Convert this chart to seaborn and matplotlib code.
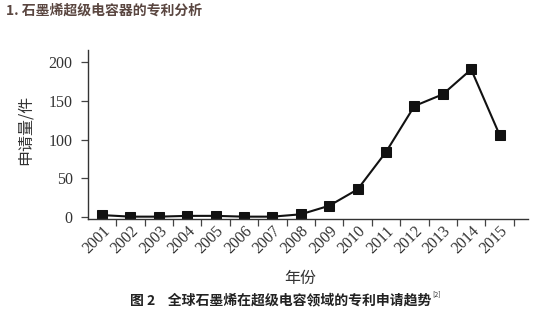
import matplotlib
matplotlib.use("Agg")
import matplotlib.pyplot as plt
import seaborn as sns
import pandas as pd
import numpy as np

years = [2001, 2002, 2003, 2004, 2005, 2006, 2007, 2008, 2009, 2010, 2011, 2012, 2013, 2014, 2015]
counts = [3, 1, 1, 2, 2, 1, 1, 4, 15, 36, 84, 143, 158, 190, 106]
yticks = [0, 50, 100, 150, 200]

title_text = "1. 石墨烯超级电容器的专利分析"
caption_text = "图 2    全球石墨烯在超级电容领域的专利申请趋势"
xlabel_text = "年份"
ylabel_text = "申请量/件"

sns.set_theme(style="white")
plt.rcParams['font.family'] = ['Noto Sans CJK SC', 'DejaVu Sans']

df = pd.DataFrame({"year": years, "count": counts})

fig = plt.figure(figsize=(5.36, 3.16), dpi=100)
ax = fig.add_axes([0.164, 0.307, 0.821, 0.535])

sns.lineplot(data=df, x="year", y="count", ax=ax, color="#111111", linewidth=1.5,
             marker="s", markersize=6.5, markerfacecolor="#111111", markeredgecolor="#111111")

ax.set_xlim(2000.5, 2016.0)
ax.set_ylim(-2, 215)
ax.set_yticks(yticks)
ax.set_yticklabels([str(v) for v in yticks], family="Liberation Serif", fontsize=11.5, color="#333333")

ax.set_xticks(years)
ax.set_xticklabels([str(y) for y in years], family="Liberation Serif", fontsize=11.5,
                   rotation=45, ha="right", rotation_mode="anchor", color="#333333")
ax.tick_params(axis="x", which="major", length=0, pad=3)
ax.set_xticks([y + 0.5 for y in years], minor=True)
ax.tick_params(axis="x", which="minor", length=5, width=0.9, color="#444444", direction="out", bottom=True)
ax.tick_params(axis="y", length=5, width=0.9, color="#444444", direction="out", left=True, pad=6)

for s in ["top", "right"]:
    ax.spines[s].set_visible(False)
for s in ["left", "bottom"]:
    ax.spines[s].set_color("#333333")
    ax.spines[s].set_linewidth(1.0)

ax.set_xlabel("")
ax.set_ylabel("")
fig.text(0.047, 0.59, ylabel_text, rotation=90, ha="center", va="center", fontsize=11.5, color="#333333")
fig.text(0.56, 0.12, xlabel_text, ha="center", va="center", fontsize=11.5, color="#333333")
fig.text(0.523, 0.048, caption_text, ha="center", va="center", fontsize=10, fontweight="bold", color="#222222")
fig.text(0.806, 0.068, "[2]", ha="left", va="center", fontsize=5, color="#333333")
fig.text(0.012, 0.965, title_text, ha="left", va="center", fontsize=10, fontweight="bold", color="#5a4640")

fig.savefig("out.png", dpi=100)
